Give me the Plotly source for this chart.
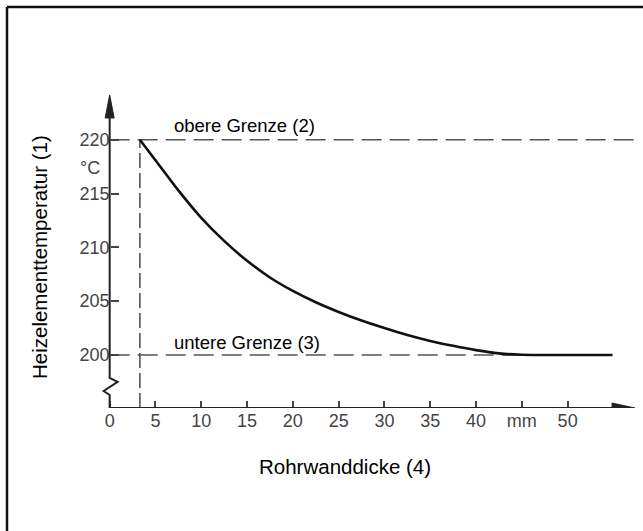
import plotly.graph_objects as go

# ---- data ----
thickness_mm = [3.3, 5, 7.5, 10, 12.5, 15, 17.5, 20, 22.5, 25, 27.5, 30, 32.5, 35, 37.5, 40, 42.5, 45, 50, 54.9]
temperature = [220, 218.1, 215.3, 212.75, 210.6, 208.75, 207.2, 205.95, 204.9, 204.0, 203.2, 202.5, 201.85, 201.3, 200.85, 200.45, 200.15, 200.02, 200.0, 200.0]
upper_limit = 220
lower_limit = 200
min_thickness = 3.3
x_tick_vals = [0, 5, 10, 15, 20, 25, 30, 35, 40, 45, 50]
x_tick_text = ["0", "5", "10", "15", "20", "25", "30", "35", "40", "mm", "50"]
y_tick_vals = [200, 205, 210, 215, 220]
y_tick_text = ["200", "205", "210", "215", "220"]

# ---- layout geometry ----
W, H = 643, 531
ML, MR, MT, MB = 95, 3, 86, 123
X_RANGE = [-1.6, 57.9]
Y_RANGE = [195.07, 225.0]
x_axis_end = 57.9
y_axis_bottom = Y_RANGE[0]

pw = W - ML - MR
ph = H - MT - MB
def px_x(p):  # pixel -> paper x
    return (p - ML) / pw
def px_y(p):  # pixel -> paper y
    return (H - MB - p) / ph
dx = (X_RANGE[1] - X_RANGE[0]) / pw   # data per pixel
dy = (Y_RANGE[1] - Y_RANGE[0]) / ph

tick_font = dict(family="Liberation Sans, Arial", size=18, color="#444444")
label_font = dict(family="Liberation Sans, Arial", size=18.5, color="#000000")
title_font = dict(family="Liberation Sans, Arial", size=20.5, color="#000000")
dash_col = "#555555"

fig = go.Figure()

# dashed limit lines
fig.add_trace(go.Scatter(x=[0, x_axis_end], y=[upper_limit, upper_limit], mode="lines",
                         line=dict(color=dash_col, width=1.6, dash="20px,8px"), hoverinfo="skip"))
fig.add_trace(go.Scatter(x=[0, thickness_mm[-1]], y=[lower_limit, lower_limit], mode="lines",
                         line=dict(color=dash_col, width=1.6, dash="20px,8px"), hoverinfo="skip"))
fig.add_trace(go.Scatter(x=[min_thickness, min_thickness], y=[y_axis_bottom, upper_limit], mode="lines",
                         line=dict(color=dash_col, width=1.6, dash="15px,5px"), hoverinfo="skip"))
# curve
fig.add_trace(go.Scatter(x=thickness_mm, y=temperature, mode="lines",
                         line=dict(color="#111111", width=2.6, shape="spline", smoothing=0.8),
                         hoverinfo="skip"))

shapes = []
axis_col = "#222222"
# x axis line + arrow
x_tip = X_RANGE[0] + (635 - ML) * dx
x_base = x_tip - 23 * dx
shapes.append(dict(type="line", xref="x", yref="y", x0=0, x1=x_base, y0=y_axis_bottom, y1=y_axis_bottom,
                   line=dict(color=axis_col, width=2)))
shapes.append(dict(type="path", xref="x", yref="y",
                   path=f"M {x_base} {y_axis_bottom + 5*dy} L {x_tip} {y_axis_bottom} L {x_base} {y_axis_bottom - 5*dy} Z",
                   fillcolor=axis_col, line=dict(color=axis_col, width=1)))
# y axis line with break + arrow
y_tip = Y_RANGE[1] - (95 - MT) * dy
y_base = y_tip - 23 * dy
brk = [(0, 196.28), (-0.65, 196.65), (0.87, 197.49), (0, 197.86)]
p = f"M 0 {y_axis_bottom} " + " ".join(f"L {a} {b}" for a, b in brk) + f" L 0 {y_base}"
shapes.append(dict(type="path", xref="x", yref="y", path=p, line=dict(color=axis_col, width=2)))
shapes.append(dict(type="path", xref="x", yref="y",
                   path=f"M {-4.5*dx} {y_base} L 0 {y_tip} L {4.5*dx} {y_base} Z",
                   fillcolor=axis_col, line=dict(color=axis_col, width=1)))
# outer frame (top and left)
shapes.append(dict(type="line", xref="paper", yref="paper", x0=px_x(7), x1=px_x(W + 5), y0=px_y(7), y1=px_y(7),
                   line=dict(color="#111111", width=2.5)))
shapes.append(dict(type="line", xref="paper", yref="paper", x0=px_x(7), x1=px_x(7), y0=px_y(7), y1=px_y(H + 5),
                   line=dict(color="#111111", width=2.5)))

annotations = [
    dict(x=6.76, y=221.3, xref="x", yref="y", text="obere Grenze (2)", showarrow=False,
         xanchor="left", yanchor="middle", font=label_font),
    dict(x=6.76, y=201.2, xref="x", yref="y", text="untere Grenze (3)", showarrow=False,
         xanchor="left", yanchor="middle", font=label_font),
    dict(x=px_x(90), y=px_y(168), xref="paper", yref="paper", text="°C", showarrow=False,
         xanchor="center", yanchor="middle", font=tick_font),
    dict(x=px_x(345), y=px_y(466), xref="paper", yref="paper", text="Rohrwanddicke (4)", showarrow=False,
         xanchor="center", yanchor="middle", font=title_font),
    dict(x=px_x(39), y=px_y(257), xref="paper", yref="paper", text="Heizelementtemperatur (1)", showarrow=False,
         textangle=-90, xanchor="center", yanchor="middle", font=title_font),
]

fig.update_layout(
    width=W, height=H,
    margin=dict(l=ML, r=MR, t=MT, b=MB, autoexpand=False),
    paper_bgcolor="white", plot_bgcolor="white",
    showlegend=False,
    shapes=shapes, annotations=annotations,
    xaxis=dict(range=X_RANGE, showgrid=False, zeroline=False, showline=False, automargin=False,
               tickmode="array", tickvals=x_tick_vals, ticktext=x_tick_text,
               ticks="inside", ticklen=7, tickwidth=1.5, tickcolor="#444444", tickfont=tick_font),
    yaxis=dict(range=Y_RANGE, showgrid=False, zeroline=False, showline=False, automargin=False,
               anchor="free", position=(0 - X_RANGE[0]) / (X_RANGE[1] - X_RANGE[0]),
               tickmode="array", tickvals=y_tick_vals, ticktext=y_tick_text,
               ticks="inside", ticklen=8, tickwidth=1.5, tickcolor="#444444", tickfont=tick_font),
)

fig.write_html("out.html", config={"displayModeBar": False},
               post_script="document.body.style.margin='0';document.body.style.overflow='hidden';")
